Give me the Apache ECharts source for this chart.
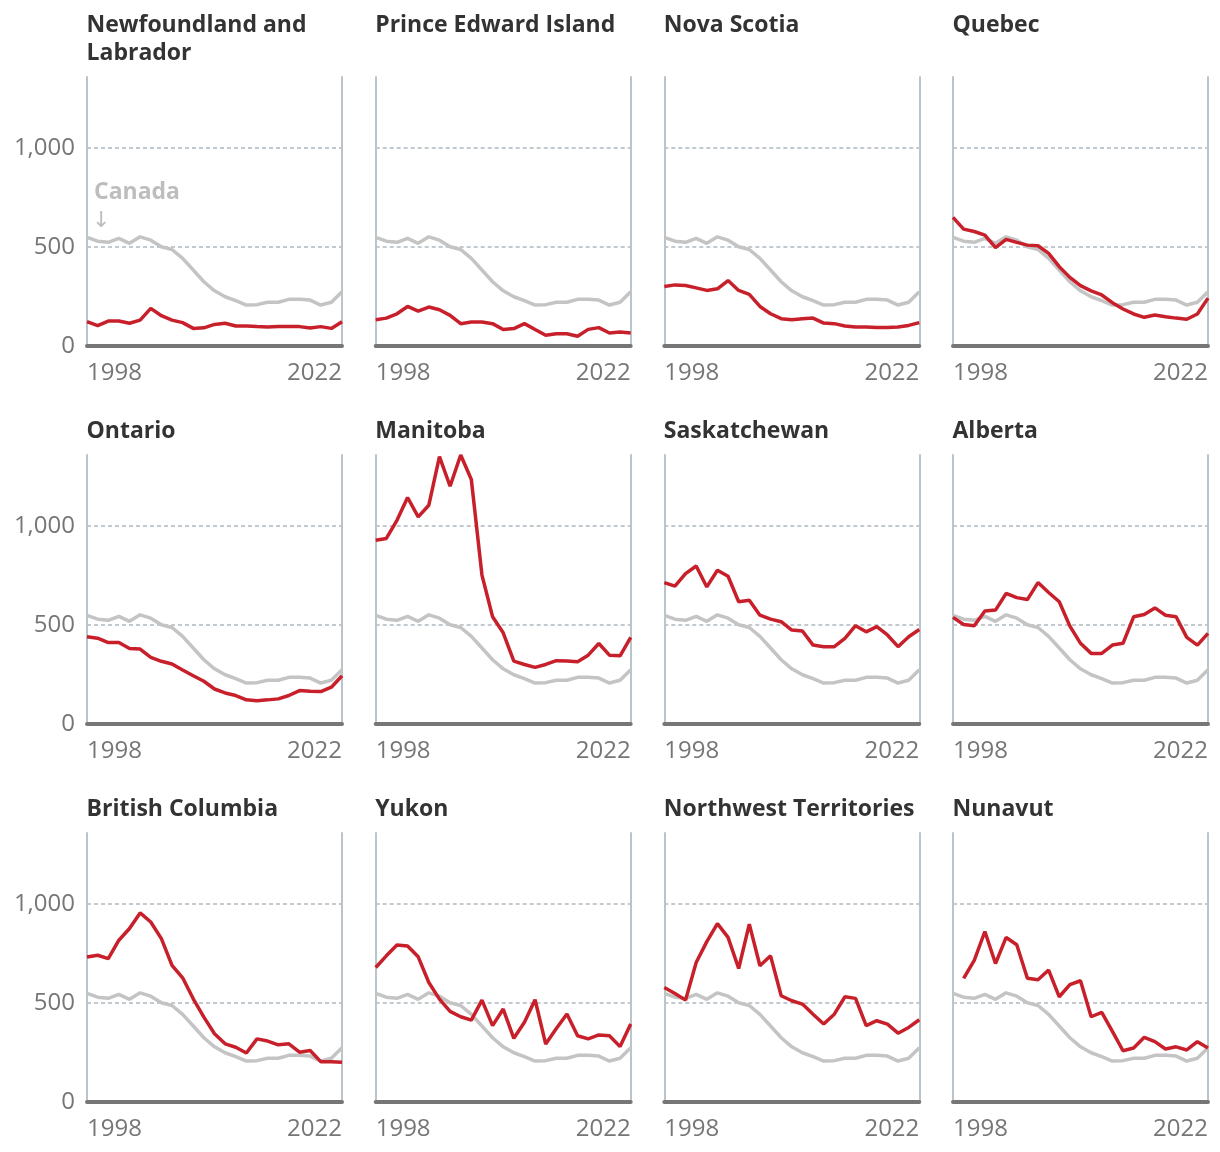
<!DOCTYPE html>
<html>
<head>
<meta charset="utf-8">
<script src="https://cdn.jsdelivr.net/npm/echarts@6/dist/echarts.min.js"></script>
<style>
html,body{margin:0;padding:0;background:#fff;}
#chart{width:1220px;height:1152px;}
</style>
</head>
<body>
<div id="chart"></div>
<script>
const years = ['1998','1999','2000','2001','2002','2003','2004','2005','2006','2007','2008','2009','2010','2011','2012','2013','2014','2015','2016','2017','2018','2019','2020','2021','2022'];
const yTicks = [0, 500, 1000];

const canada = [549,530,524,544,519,552,535,502,488,443,384,325,279,249,229,207,209,221,221,236,236,232,207,221,274];

const newfoundland = [123,103,126,126,115,131,190,153,131,118,89,92,109,115,101,101,98,96,98,98,98,91,98,89,123];
const princeEdward = [133,141,163,200,176,197,183,155,113,121,121,113,83,88,113,83,54,62,62,49,84,93,66,71,66];
const novaScotia = [301,309,306,294,281,289,331,281,261,200,163,138,133,138,141,116,113,101,96,96,93,93,96,104,118];
const quebec = [650,591,579,561,497,539,524,510,507,468,401,347,305,279,258,219,187,162,145,157,148,141,135,162,242];
const ontario = [441,434,412,412,382,379,337,317,303,273,244,216,177,157,144,122,118,122,127,144,169,165,164,186,244];
const manitoba = [929,938,1030,1145,1047,1106,1352,1202,1360,1236,753,542,461,318,301,286,301,320,318,315,348,407,348,345,438];
const saskatchewan = [715,697,760,799,693,777,747,618,626,550,530,517,475,470,399,391,391,433,497,466,492,450,391,441,478];
const alberta = [539,503,497,571,576,660,639,629,715,665,618,495,408,357,357,399,408,542,554,587,550,542,438,399,458];
const britishColumbia = [733,742,725,818,877,956,910,826,691,628,522,429,345,294,277,248,319,308,289,294,252,260,204,204,201];
const yukon = [680,739,794,789,734,604,520,458,431,414,515,386,470,322,403,517,293,372,445,335,319,339,335,280,394];
const northwest = [579,549,515,705,811,902,832,675,899,689,739,537,512,495,444,394,444,532,524,386,411,394,348,377,416];
const nunavut = [null,625,716,862,700,832,795,626,618,667,532,593,613,431,453,357,259,273,327,305,268,279,263,305,273];

const panels = [
  ['Newfoundland and\nLabrador', newfoundland],
  ['Prince Edward Island', princeEdward],
  ['Nova Scotia', novaScotia],
  ['Quebec', quebec],
  ['Ontario', ontario],
  ['Manitoba', manitoba],
  ['Saskatchewan', saskatchewan],
  ['Alberta', alberta],
  ['British Columbia', britishColumbia],
  ['Yukon', yukon],
  ['Northwest Territories', northwest],
  ['Nunavut', nunavut]
];

const Y_MAX = 1360;
const FONT = "'Open Sans', 'Noto Sans', sans-serif";
const lefts = [87, 375.7, 664.3, 953];
const tops = [77, 455, 833];
const W = 255, H = 269;
const titleTops = [11, 417, 795];

const chart = echarts.init(document.getElementById('chart'), null, {renderer: 'canvas'});

const grid = [], xAxis = [], yAxis = [], series = [], title = [];
panels.forEach((p, i) => {
  const row = Math.floor(i / 4), col = i % 4;
  grid.push({left: lefts[col], top: tops[row], width: W, height: H, containLabel: false, outerBoundsMode: 'none'});
  title.push({
    text: p[0], left: lefts[col] - 0.5, top: titleTops[row], padding: 0,
    textStyle: {fontFamily: FONT, fontSize: 23, fontWeight: 'bold', color: '#333', lineHeight: 28}
  });
  xAxis.push({
    type: 'category', gridIndex: i, data: years, boundaryGap: false,
    axisTick: {show: false},
    axisLine: {show: true, lineStyle: {color: '#767676', width: 4}},
    axisLabel: {
      show: true, interval: (idx) => idx === 0 || idx === years.length - 1,
      color: '#767676', fontFamily: FONT, fontSize: 24, margin: 15,
      alignMinLabel: 'left', alignMaxLabel: 'right'
    },
    splitLine: {show: false}
  });
  yAxis.push({
    type: 'value', gridIndex: i, min: 0, max: Y_MAX, interval: 500,
    axisLine: {show: true, lineStyle: {color: '#b9c4cb', width: 2}},
    axisTick: {show: false},
    axisLabel: {
      show: col === 0, showMaxLabel: false, color: '#767676', fontFamily: FONT, fontSize: 24, margin: 12,
      formatter: (v) => yTicks.includes(v) ? v.toLocaleString('en-US') : ''
    },
    splitLine: {show: true, lineStyle: {color: ['rgba(0,0,0,0)', '#aeb9c1', '#aeb9c1', 'rgba(0,0,0,0)'], type: [4, 3], width: 1.5}}
  });
  yAxis.push({
    type: 'value', gridIndex: i, min: 0, max: Y_MAX, interval: 500, position: 'right',
    axisLine: {show: true, lineStyle: {color: '#b9c4cb', width: 2}},
    axisTick: {show: false}, axisLabel: {show: false}, splitLine: {show: false}
  });
  series.push({
    name: 'Canada', type: 'line', xAxisIndex: i, yAxisIndex: 2 * i, data: canada,
    symbol: 'none', lineStyle: {color: '#c4c4c4', width: 3.5}, z: 3, silent: true, animation: false
  });
  series.push({
    name: p[0], type: 'line', xAxisIndex: i, yAxisIndex: 2 * i, data: p[1],
    symbol: 'none', connectNulls: false, lineStyle: {color: '#c8202b', width: 3.5}, z: 4, silent: true, animation: false
  });
});

chart.setOption({
  animation: false,
  title: title,
  grid: grid,
  xAxis: xAxis,
  yAxis: yAxis,
  series: series,
  graphic: [
    {type: 'text', left: 94, top: 181, style: {text: 'Canada', fontFamily: FONT, fontSize: 23, fontWeight: 'bold', fill: '#bdbdbd'}, z: 10},
    {type: 'text', left: 92, top: 210, style: {text: '↓', fontFamily: "'DejaVu Sans', sans-serif", fontSize: 22, fill: '#bdbdbd'}, z: 10}
  ]
});
</script>
</body>
</html>
